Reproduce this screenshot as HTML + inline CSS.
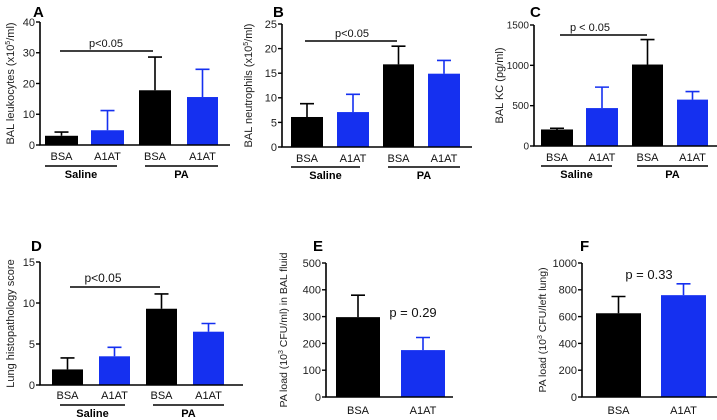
<!DOCTYPE html>
<html><head><meta charset="utf-8"><style>
html,body{margin:0;padding:0;background:#fff}
svg{display:block;font-family:"Liberation Sans",Arial,sans-serif}
</style></head><body>
<svg id="fig" width="717" height="420" viewBox="0 0 717 420"></svg>
<script>
const categories4 = ["BSA","A1AT","BSA","A1AT"];
const categories2 = ["BSA","A1AT"];
const groupLabels = ["Saline","PA"];
const valuesA = [3.0, 4.8, 17.8, 15.6];
const errorsA = [1.2, 6.4, 10.8, 9.0];
const ticksA = [0,10,20,30,40];
const valuesB = [6.1, 7.1, 16.8, 14.9];
const errorsB = [2.7, 3.6, 3.7, 2.7];
const ticksB = [0,5,10,15,20,25];
const valuesC = [205, 470, 1010, 575];
const errorsC = [15, 260, 310, 100];
const ticksC = [0,500,1000,1500];
const valuesD = [1.9, 3.5, 9.3, 6.5];
const errorsD = [1.4, 1.1, 1.8, 1.0];
const ticksD = [0,5,10,15];
const valuesE = [298, 175];
const errorsE = [82, 47];
const ticksE = [0,100,200,300,400,500];
const valuesF = [625, 760];
const errorsF = [125, 85];
const ticksF = [0,200,400,600,800,1000];

const NS="http://www.w3.org/2000/svg";
const svg=document.getElementById('fig');
const BLUE="#1530f0";
function mk(tag,attrs,parent,text){const e=document.createElementNS(NS,tag);for(const k in attrs)e.setAttribute(k,attrs[k]);if(text!==undefined)e.textContent=text;(parent||svg).appendChild(e);return e;}

function panel(p){
  const g=mk('g',{},svg);
  
  
  const max=p.ticks[p.ticks.length-1];
  const y=v=>p.y0-(v/max)*(p.y0-p.yTop);
  const L=mk('text',{x:p.lx,y:p.ly,'font-size':15,'font-weight':'bold'},g,p.letter);
  
  
  p.values.forEach((v,i)=>{
    const col=(i%2===0)?'#000':BLUE;
    const x1=p.bars[i][0], x2=p.bars[i][1], cx=(x1+x2)/2;
    const r=mk('rect',{x:x1,y:y(v),width:x2-x1,height:p.y0-y(v),fill:col},g);
    
    
    const top=y(v+p.errors[i]);
    const e=mk('path',{d:`M${cx},${y(v)}V${top}M${cx-7},${top}H${cx+7}`,stroke:col,'stroke-width':1.6,fill:'none'},g);
    
    
    const t=mk('text',{x:cx,y:p.labY,'font-size':p.labFs,'text-anchor':'middle',fill:'#111'},g,p.cats[i]);
    
    
  });
  const ax=mk('path',{d:`M${p.ax},${p.yTop}V${p.y0}H${p.xEnd}`,stroke:'#000','stroke-width':1.6,fill:'none'},g);
  
  
  const tfs=p.tickFs||11;
  p.ticks.forEach(tv=>{
    const ty=y(tv);
    mk('line',{x1:p.ax-4,x2:p.ax,y1:ty,y2:ty,stroke:'#000','stroke-width':1.4},g);
    const t=mk('text',{x:p.ax-5,y:ty+tfs*0.35,'font-size':tfs,'text-anchor':'end',fill:'#222'},g,String(tv));
    
    
  });
  const yl=mk('text',{x:0,y:0,'font-size':p.ylFs||11,'text-anchor':'middle',fill:'#222',transform:`translate(${p.ylx},${(p.yTop+p.y0)/2}) rotate(-90)`},g);
  
  
  p.ylabel.forEach(s=>{mk('tspan',s.sup?{dy:-4,'font-size':7}:(s.after?{dy:4}:{}),yl,s.t);});
  if(p.groups){
    p.groups.forEach((gp,k)=>{
      mk('line',{x1:gp[0],x2:gp[1],y1:p.ulY,y2:p.ulY,stroke:'#000','stroke-width':1.6},g);
      const t=mk('text',{x:(gp[0]+gp[1])/2,y:p.ulY+12,'font-size':11,'font-weight':'bold','text-anchor':'middle'},g,groupLabels[k]);
      
      
    });
  }
  if(p.sig){
    if(p.sig.line) mk('line',{x1:p.sig.line[0],x2:p.sig.line[1],y1:p.sig.line[2],y2:p.sig.line[2],stroke:'#000','stroke-width':1.4},g);
    const t=mk('text',{x:p.sig.x,y:p.sig.y,'font-size':p.sig.fs,'text-anchor':'middle',fill:'#111'},g,p.sig.t);
    
    
  }
}
const lab=(a,b)=>[{t:a},{t:'5',sup:true},{t:b,after:true}];
panel({letter:'A',lx:33,ly:17,ax:40,yTop:22,y0:145,xEnd:230,ticks:ticksA,values:valuesA,errors:errorsA,cats:categories4,
  bars:[[45,78],[91,124],[139,171],[187,218]],labY:160,labFs:11,ulY:166,groups:[[45,117],[145,218]],
  ylx:14,ylabel:lab('BAL leukocytes (x10','/ml)'),sig:{line:[60,153,51],x:106,y:47,t:'p<0.05',fs:11}});
panel({letter:'B',lx:273,ly:17,ax:282,yTop:24,y0:147,xEnd:472,ticks:ticksB,values:valuesB,errors:errorsB,cats:categories4,
  bars:[[291,323],[337,369],[383,414],[428,460]],labY:162,labFs:11,ulY:167,groups:[[291,360],[388,460]],
  ylx:252,ylabel:lab('BAL neutrophils (x10','/ml)'),sig:{line:[305,397,41],x:352,y:37,t:'p<0.05',fs:11}});
panel({letter:'C',lx:530,ly:17,ax:534,yTop:25,y0:146,xEnd:717,ticks:ticksC,values:valuesC,errors:errorsC,cats:categories4,tickFs:10,
  bars:[[541,573],[586,618],[632,663],[677,708]],labY:161,labFs:11,ulY:166,groups:[[541,612],[637,708]],
  ylx:503,ylabel:[{t:'BAL KC (pg/ml)'}],sig:{line:[560,647,35],x:590,y:31,t:'p < 0.05',fs:11}});
panel({letter:'D',lx:31,ly:251,ax:40,yTop:262,y0:385,xEnd:243,ticks:ticksD,values:valuesD,errors:errorsD,cats:categories4,
  bars:[[52,83],[99,130],[146,177],[193,224]],labY:399,labFs:11,ulY:405,groups:[[60,125],[153,224]],
  ylx:14,ylabel:[{t:'Lung histopathology score'}],sig:{line:[70,160,287],x:103,y:282,t:'p<0.05',fs:12}});
panel({letter:'E',lx:313,ly:251,ax:326,yTop:263,y0:397,xEnd:453,ticks:ticksE,values:valuesE,errors:errorsE,cats:categories2,
  bars:[[336,380],[401,445]],labY:414,labFs:11,
  ylx:287,ylFs:10.5,ylabel:[{t:'PA load (10'},{t:'3',sup:true},{t:' CFU/ml) in BAL fluid',after:true}],sig:{x:413,y:317,t:'p = 0.29',fs:13}});
panel({letter:'F',lx:580,ly:251,ax:582,yTop:263,y0:397,xEnd:717,ticks:ticksF,values:valuesF,errors:errorsF,cats:categories2,
  bars:[[596,641],[661,706]],labY:414,labFs:11,
  ylx:546,ylFs:10.5,ylabel:[{t:'PA load (10'},{t:'3',sup:true},{t:' CFU/left lung)',after:true}],sig:{x:649,y:279,t:'p = 0.33',fs:13}});
</script>
</body></html>
